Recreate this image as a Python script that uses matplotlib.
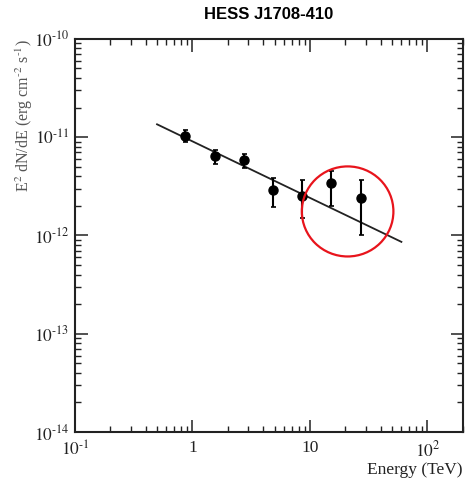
import matplotlib
matplotlib.use("Agg")
import matplotlib.pyplot as plt
from matplotlib.patches import Ellipse
from matplotlib.ticker import LogLocator, FixedLocator, FixedFormatter, NullFormatter

plt.rcParams['font.family'] = ['Liberation Serif', 'DejaVu Serif']
plt.rcParams['mathtext.fontset'] = 'stix'

# Data
energy = [0.87, 1.57, 2.76, 4.86, 8.55, 15.1, 27.0]
flux = [1.02e-11, 6.4e-12, 5.8e-12, 2.9e-12, 2.5e-12, 3.4e-12, 2.4e-12]
flux_hi = [1.17e-11, 7.4e-12, 6.8e-12, 3.8e-12, 3.65e-12, 4.5e-12, 3.65e-12]
flux_lo = [8.9e-12, 5.3e-12, 4.9e-12, 1.95e-12, 1.5e-12, 2.0e-12, 1.0e-12]
fit_energy = [0.50, 60.0]
fit_flux = [1.35e-11, 8.6e-13]

xticks = [0.1, 1, 10, 100]
xticklabels = [r'$10^{\text{-}1}$', '1', '10', r'$10^{2}$']
yticks = [1e-14, 1e-13, 1e-12, 1e-11, 1e-10]
yticklabels = [r'$10^{\text{-}14}$', r'$10^{\text{-}13}$', r'$10^{\text{-}12}$',
               r'$10^{\text{-}11}$', r'$10^{\text{-}10}$']

fig = plt.figure(figsize=(4.68, 4.79), dpi=100)
ax = fig.add_axes([0.160, 0.098, 0.829, 0.821])
ax.set_xscale('log')
ax.set_yscale('log')
ax.set_xlim(0.1, 200)
ax.set_ylim(1e-14, 1e-10)

ax.plot(fit_energy, fit_flux, color='#222222', lw=1.3, zorder=2)
yerr = [[f - l for f, l in zip(flux, flux_lo)], [h - f for f, h in zip(flux, flux_hi)]]
ax.errorbar(energy, flux, yerr=yerr, fmt='o', color='black', ms=6.5,
            elinewidth=1.5, capsize=1.8, capthick=1.2, zorder=3)

circ = Ellipse((0.703, 0.561), 0.236, 0.229, transform=ax.transAxes,
               fill=False, edgecolor='#e8141c', lw=1.6, zorder=4)
ax.add_patch(circ)

ax.xaxis.set_major_locator(FixedLocator(xticks))
ax.xaxis.set_major_formatter(FixedFormatter(xticklabels))
ax.xaxis.set_minor_locator(LogLocator(base=10, subs=range(2, 10), numticks=20))
ax.xaxis.set_minor_formatter(NullFormatter())
ax.yaxis.set_major_locator(FixedLocator(yticks))
ax.yaxis.set_major_formatter(FixedFormatter(yticklabels))
ax.yaxis.set_minor_locator(LogLocator(base=10, subs=range(2, 10), numticks=20))
ax.yaxis.set_minor_formatter(NullFormatter())

ax.tick_params(which='both', direction='in', top=True, right=True, color='#222222',
               labelsize=12.5, labelcolor='#222222')
ax.tick_params(which='major', length=9, width=1.1)
ax.tick_params(axis='x', which='major', pad=6)
ax.tick_params(axis='y', which='major', pad=4)
ax.tick_params(which='minor', length=4.5, width=1.0)
for s in ax.spines.values():
    s.set_linewidth(1.5)
    s.set_color('#222222')

ax.set_xlabel('Energy (TeV)', fontsize=12.5, loc='right', color='#222222')
ax.xaxis.set_label_coords(1.0, -0.075)
ax.set_ylabel(r'E$^{2}$ dN/dE (erg cm$^{\text{-}2}$ s$^{\text{-}1}$)', fontsize=11.5, loc='top',
              color='#555555')
ax.yaxis.set_label_coords(-0.102, 1.0)

fig.suptitle('HESS J1708-410', fontsize=12, fontweight='bold',
             family=['Liberation Sans', 'DejaVu Sans'], x=0.573, y=0.985, va='top')

fig.savefig('out.png', dpi=100)
